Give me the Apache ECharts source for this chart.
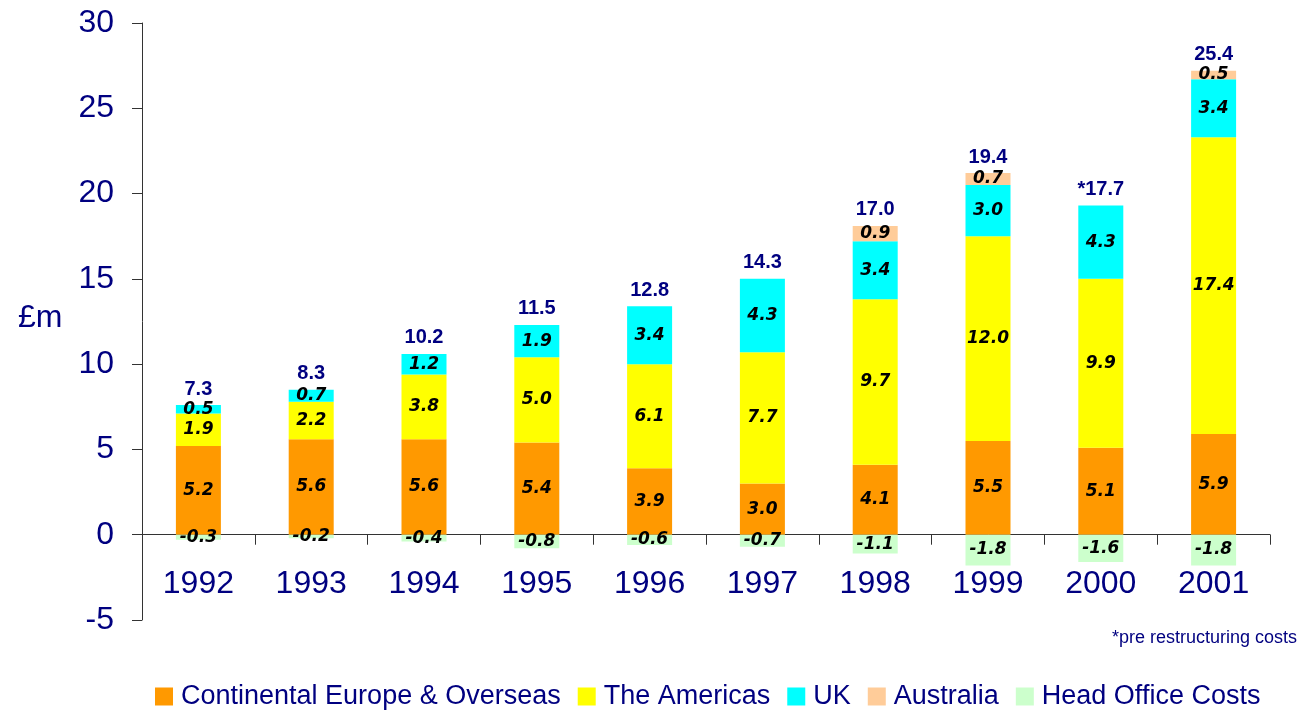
<!DOCTYPE html>
<html>
<head>
<meta charset="utf-8">
<script src="https://cdn.jsdelivr.net/npm/echarts@6/dist/echarts.min.js"></script>
<style>
html,body{margin:0;padding:0;background:#fff;}
#chart{width:1303px;height:710px;}
</style>
</head>
<body>
<div id="chart"></div>
<script>
const years = ['1992','1993','1994','1995','1996','1997','1998','1999','2000','2001'];
const europe = [5.2, 5.6, 5.6, 5.4, 3.9, 3.0, 4.1, 5.5, 5.1, 5.9];
const americas = [1.9, 2.2, 3.8, 5.0, 6.1, 7.7, 9.7, 12.0, 9.9, 17.4];
const uk = [0.5, 0.7, 1.2, 1.9, 3.4, 4.3, 3.4, 3.0, 4.3, 3.4];
const australia = [0, 0, 0, 0, 0, 0, 0.9, 0.7, 0, 0.5];
const headOffice = [-0.3, -0.2, -0.4, -0.8, -0.6, -0.7, -1.1, -1.8, -1.6, -1.8];
const totalLabels = ['7.3','8.3','10.2','11.5','12.8','14.3','17.0','19.4','*17.7','25.4'];
const yTicks = [-5, 0, 5, 10, 15, 20, 25, 30];

const NAVY = '#000080';
const innerLabel = {
  show: true,
  position: 'inside',
  color: '#000',
  fontFamily: 'DejaVu Sans',
  fontStyle: 'italic',
  fontWeight: 'bold',
  fontSize: 17,
  formatter: p => (p.value === 0 ? '' : p.value.toFixed(1))
};

function seg(name, data, color) {
  return {
    name, type: 'bar', stack: 'all', data, barWidth: 45,
    itemStyle: { color },
    label: innerLabel,
    emphasis: { disabled: true }
  };
}

const chart = echarts.init(document.getElementById('chart'));
chart.setOption({
  animation: false,
  backgroundColor: '#fff',
  grid: { left: 142, right: 33, top: 23, bottom: 90 },
  legend: {
    data: ['Continental Europe & Overseas', 'The Americas', 'UK', 'Australia', 'Head Office Costs'],
    left: 150, top: 678,
    itemWidth: 18, itemHeight: 18, itemGap: 17,
    icon: 'rect',
    textStyle: { color: NAVY, fontSize: 27, fontFamily: 'Liberation Sans', padding: [0, 0, 0, 3] }
  },
  xAxis: {
    type: 'category', data: years,
    axisLine: { onZero: true, lineStyle: { color: '#333', width: 1 } },
    axisTick: { show: true, length: 10, alignWithLabel: false, lineStyle: { color: '#333' } },
    axisLabel: { color: NAVY, fontSize: 32, fontFamily: 'Liberation Sans', margin: -52, interval: 0 }
  },
  yAxis: {
    type: 'value', min: yTicks[0], max: yTicks[yTicks.length - 1], interval: 5,
    splitLine: { show: false },
    axisLine: { show: true, lineStyle: { color: '#333', width: 1 } },
    axisTick: { show: true, length: 10, lineStyle: { color: '#333' } },
    axisLabel: { color: NAVY, fontSize: 32, fontFamily: 'Liberation Sans', margin: 28 }
  },
  graphic: [
    { type: 'text', left: 18, top: 302, style: { text: '£m', fill: NAVY, font: '32px "Liberation Sans"' } },
    { type: 'text', right: 6, top: 629, style: { text: '*pre restructuring costs', fill: NAVY, font: '18px "Liberation Sans"' } }
  ],
  series: [
    seg('Continental Europe & Overseas', europe, '#FF9900'),
    seg('The Americas', americas, '#FFFF00'),
    seg('UK', uk, '#00FFFF'),
    seg('Australia', australia, '#FFCC99'),
    {
      name: 'Total', type: 'bar', stack: 'all', barWidth: 45,
      data: years.map(() => 0),
      itemStyle: { color: 'rgba(0,0,0,0)' },
      label: {
        show: true, position: 'top', distance: 6,
        color: NAVY, fontFamily: 'Liberation Sans', fontWeight: 'bold', fontSize: 20,
        formatter: p => totalLabels[p.dataIndex]
      },
      emphasis: { disabled: true }
    },
    seg('Head Office Costs', headOffice, '#CCFFCC')
  ]
});
</script>
</body>
</html>
